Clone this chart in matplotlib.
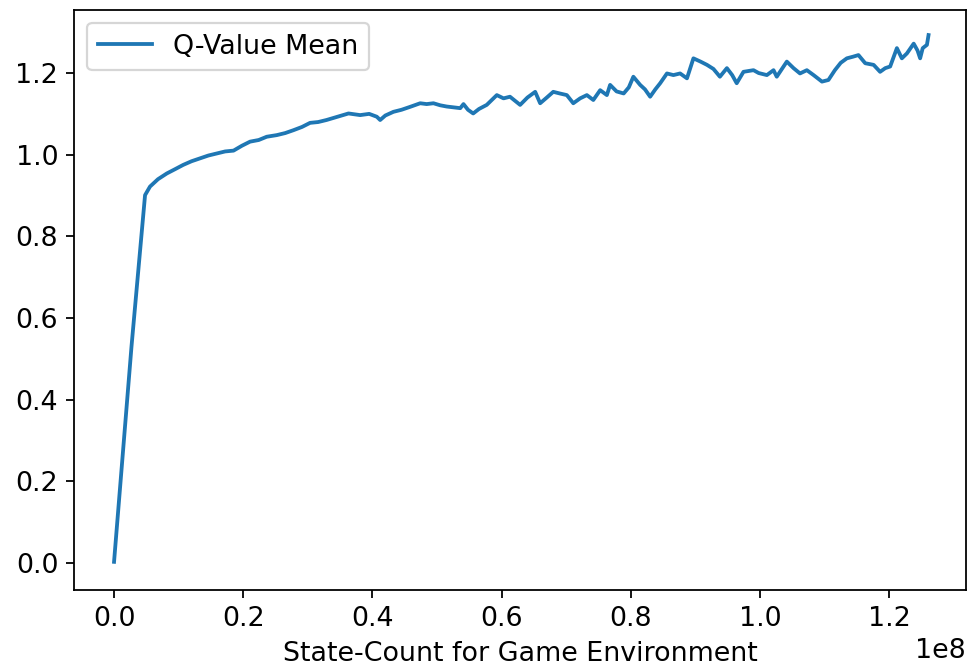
import numpy as np
import matplotlib
matplotlib.use('Agg')
import matplotlib.pyplot as plt

# State count (in units of 1e8) and mean Q-value at each logged point
state_count = [
    0.000, 0.027, 0.048, 0.0557, 0.068, 0.0816, 0.095, 0.107, 0.120, 0.133,
    0.146, 0.159, 0.172, 0.185, 0.198, 0.2106, 0.224, 0.2364, 0.252, 0.265,
    0.2777, 0.291, 0.3035, 0.316, 0.329, 0.346, 0.363, 0.381, 0.395, 0.4068,
    0.412, 0.420, 0.4325, 0.445, 0.458, 0.474, 0.484, 0.4945, 0.505, 0.515,
    0.536, 0.541, 0.548, 0.556, 0.565, 0.577, 0.5926, 0.603, 0.613, 0.6287,
    0.640, 0.652, 0.6597, 0.670, 0.680, 0.690, 0.701, 0.711, 0.7216, 0.732,
    0.742, 0.7526, 0.763, 0.768, 0.778, 0.789, 0.797, 0.804, 0.8145, 0.822,
    0.830, 0.838, 0.8455, 0.856, 0.866, 0.8764, 0.887, 0.897, 0.908, 0.918,
    0.928, 0.938, 0.9488, 0.957, 0.964, 0.9745, 0.990, 0.998, 1.0107, 1.021,
    1.026, 1.034, 1.0416, 1.052, 1.062, 1.0726, 1.083, 1.096, 1.106, 1.116,
    1.125, 1.1345, 1.144, 1.1525, 1.163, 1.176, 1.186, 1.194, 1.2016, 1.212,
    1.2197, 1.2275, 1.238, 1.244, 1.248, 1.252, 1.2585, 1.261,
]
q_mean = [
    0.003, 0.530, 0.901, 0.922, 0.940, 0.954, 0.965, 0.975, 0.984, 0.991,
    0.998, 1.003, 1.008, 1.010, 1.022, 1.032, 1.036, 1.044, 1.048, 1.053,
    1.060, 1.068, 1.078, 1.080, 1.085, 1.093, 1.101, 1.097, 1.100, 1.093,
    1.085, 1.096, 1.105, 1.110, 1.117, 1.126, 1.124, 1.126, 1.121, 1.118,
    1.114, 1.124, 1.110, 1.101, 1.112, 1.122, 1.146, 1.138, 1.142, 1.122,
    1.140, 1.154, 1.126, 1.140, 1.154, 1.150, 1.146, 1.126, 1.138, 1.146,
    1.134, 1.158, 1.146, 1.171, 1.155, 1.150, 1.165, 1.191, 1.171, 1.160,
    1.142, 1.160, 1.175, 1.199, 1.195, 1.199, 1.187, 1.236, 1.228, 1.220,
    1.210, 1.191, 1.212, 1.195, 1.175, 1.203, 1.207, 1.200, 1.195, 1.207,
    1.191, 1.210, 1.228, 1.212, 1.199, 1.207, 1.195, 1.179, 1.183, 1.207,
    1.225, 1.236, 1.240, 1.244, 1.224, 1.220, 1.203, 1.212, 1.216, 1.261,
    1.236, 1.248, 1.272, 1.255, 1.236, 1.261, 1.269, 1.293,
]

x = np.array(state_count) * 1e8
y = np.array(q_mean)

plt.rcParams['font.size'] = 12

dpi = 161
fig = plt.figure(figsize=(967 / dpi, 669 / dpi), dpi=dpi)
ax = fig.add_axes([74 / 967, 1 - 590 / 669, (966 - 74) / 967, (590 - 9.5) / 669])

ax.plot(x, y, label='Q-Value Mean', lw=1.7)
ax.set_xlim(-0.062e8, 1.319e8)
ax.set_ylim(-0.066, 1.3556)
ax.set_xlabel('State-Count for Game Environment')
ax.legend(loc='upper left')

fig.savefig('out.png', dpi=dpi)
